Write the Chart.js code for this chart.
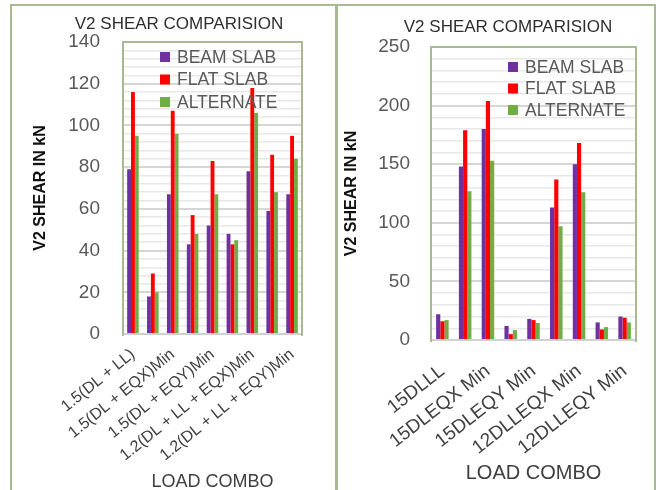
<!DOCTYPE html>
<html>
<head>
<meta charset="utf-8">
<script src="https://cdn.jsdelivr.net/npm/chart.js@4.4.1/dist/chart.umd.min.js"></script>
<style>
    html, body {
        margin: 0;
        padding: 0;
        background: #ffffff;
        overflow: hidden;
    }
    #page {
        position: relative;
        width: 665px;
        height: 490px;
        overflow: hidden;
    }
    #frame {
        position: absolute;
        left: 10px;
        top: 4px;
        width: 646px;
        height: 500px;
        border: 2px solid #a9b993;
        box-sizing: border-box;
    }
    #divider {
        position: absolute;
        left: 335px;
        top: 4px;
        width: 3px;
        height: 500px;
        background: #a9b993;
    }
    canvas {
        position: absolute;
    }
    #leftChart {
        left: 12px;
        top: 6px;
    }
    #rightChart {
        left: 338px;
        top: 6px;
    }
</style>
</head>
<body>
<div id="page">
    <div id="frame"></div>
    <div id="divider"></div>
    <canvas id="leftChart" width="322" height="490"></canvas>
    <canvas id="rightChart" width="316" height="490"></canvas>
</div>

<script>
// Series shared by both charts
var seriesNames = ['BEAM SLAB', 'FLAT SLAB', 'ALTERNATE'];
var seriesColors = ['#7030a0', '#ff0000', '#70ad47'];

// Left chart (factored combos)
var leftCombos = ['1.5(DL + LL)', '1.5(DL + EQX)Max', '1.5(DL + EQX)Min', '1.5(DL + EQY)Max', '1.5(DL + EQY)Min',
    '1.2(DL + LL + EQX)Max', '1.2(DL + LL + EQX)Min', '1.2(DL + LL + EQY)Max', '1.2(DL + LL + EQY)Min'];
var leftBeamSlab = [79, 18, 67, 43, 52, 48, 78, 59, 67];
var leftFlatSlab = [116, 29, 107, 57, 83, 43, 118, 86, 95];
var leftAlternate = [95, 20, 96, 48, 67, 45, 106, 68, 84];
var leftYTicks = [0, 20, 40, 60, 80, 100, 120, 140];

// Right chart (combo names without brackets)
var rightCombos = ['15DLLL', '15DLEQX Max', '15DLEQX Min', '15DLEQY Max', '15DLEQY Min',
    '12DLLEQX Max', '12DLLEQX Min', '12DLLEQY Max', '12DLLEQY Min'];
var rightBeamSlab = [22, 148, 180, 12, 18, 113, 150, 15, 20];
var rightFlatSlab = [16, 179, 204, 5, 17, 137, 168, 9, 19];
var rightAlternate = [17, 127, 153, 8.5, 14.5, 97, 126, 11, 15];
var rightYTicks = [0, 50, 100, 150, 200, 250];

var titleText = 'V2 SHEAR COMPARISION';
var yTitleText = 'V2 SHEAR IN kN';
var xTitleText = 'LOAD COMBO';

var fontFamily = "'Liberation Sans', Arial, sans-serif";
var frameColor = '#a9b993';

// plot frame, chart title and the legend sitting inside the plot area
var panelDecor = {
    id: 'panelDecor',
    beforeDatasetsDraw: function (chart, args, opts) {
        var a = chart.chartArea;
        var ctx = chart.ctx;
        ctx.save();
        ctx.strokeStyle = frameColor;
        ctx.lineWidth = 2;
        ctx.beginPath();
        ctx.moveTo(a.left, a.bottom + 2);
        ctx.lineTo(a.left, a.top);
        ctx.lineTo(a.right, a.top);
        ctx.lineTo(a.right, a.bottom + 2);
        ctx.stroke();
        ctx.restore();
    },
    afterDraw: function (chart, args, opts) {
        var ctx = chart.ctx;
        ctx.save();
        // title
        ctx.fillStyle = '#2e2e2e';
        ctx.font = opts.titleSize + 'px ' + fontFamily;
        ctx.textAlign = 'center';
        ctx.textBaseline = 'middle';
        ctx.fillText(titleText, opts.titleX, opts.titleY);

        // legend
        ctx.font = opts.legendSize + 'px ' + fontFamily;
        ctx.textAlign = 'left';
        chart.data.datasets.forEach(function (ds, i) {
            var y = opts.legendY + i * opts.legendGap;
            ctx.fillStyle = ds.backgroundColor;
            ctx.fillRect(opts.legendX, y - 5, 10, 10);
            ctx.fillStyle = '#595959';
            ctx.fillText(ds.label, opts.legendX + 17, y + 1);
        });
        ctx.restore();
    }
};

function makeChart(canvasId, combos, beam, flat, alt, yTicks, minorStep, look) {
    var ctx = document.getElementById(canvasId).getContext('2d');
    var values = [beam, flat, alt];
    var datasets = [];
    for (var i = 0; i < seriesNames.length; i++) {
        datasets.push({
            label: seriesNames[i],
            data: values[i],
            backgroundColor: seriesColors[i],
            borderWidth: 0,
            categoryPercentage: look.catPct,
            barPercentage: 1.0
        });
    }

    return new Chart(ctx, {
        type: 'bar',
        data: {
            labels: combos,
            datasets: datasets
        },
        options: {
            responsive: false,
            animation: false,
            layout: {
                padding: look.padding
            },
            plugins: {
                legend: { display: false },
                tooltip: { enabled: false },
                panelDecor: look.decor
            },
            scales: {
                x: {
                    grid: { display: false },
                    border: { color: '#d0d0d0', width: 2 },
                    ticks: {
                        autoSkip: false,
                        minRotation: look.rotation,
                        maxRotation: look.rotation,
                        padding: look.xTickPad,
                        color: '#404040',
                        font: { family: fontFamily, size: look.xTickSize },
                        // only every other combo is named on the axis
                        callback: function (value, index) {
                            return index % 2 === 0 ? this.getLabelForValue(value) : '';
                        }
                    },
                    title: {
                        display: true,
                        text: xTitleText,
                        color: '#404040',
                        padding: { top: 0, bottom: 0 },
                        font: { family: fontFamily, size: look.xTitleSize, lineHeight: 1 }
                    },
                    afterFit: function (scale) {
                        scale.height = look.xAxisHeight;
                    }
                },
                y: {
                    min: 0,
                    max: yTicks[yTicks.length - 1],
                    border: { display: false },
                    grid: {
                        drawTicks: false,
                        color: function (c) {
                            return yTicks.indexOf(c.tick.value) >= 0 ? '#d6d6d6' : '#e8e8e8';
                        },
                        lineWidth: function (c) {
                            return yTicks.indexOf(c.tick.value) >= 0 ? 2 : 1.5;
                        }
                    },
                    ticks: {
                        stepSize: minorStep,
                        autoSkip: false,
                        padding: look.yTickPad,
                        color: '#595959',
                        font: { family: fontFamily, size: 19 },
                        callback: function (value) {
                            return yTicks.indexOf(value) >= 0 ? value : '';
                        }
                    },
                    title: {
                        display: true,
                        text: yTitleText,
                        color: '#111111',
                        padding: { top: 1, bottom: 0 },
                        font: { family: fontFamily, size: 16, weight: 'bold', lineHeight: 1 }
                    },
                    afterFit: function (scale) {
                        scale.width = look.yAxisWidth;
                    }
                }
            }
        },
        plugins: [panelDecor]
    });
}

document.addEventListener('DOMContentLoaded', function () {
    makeChart('leftChart', leftCombos, leftBeamSlab, leftFlatSlab, leftAlternate, leftYTicks, 4, {
        catPct: 0.58,
        padding: { left: 20, right: 32, top: 36, bottom: 5 },
        yAxisWidth: 91,
        xAxisHeight: 157,
        yTickPad: 23,
        xTickPad: 3,
        xTickSize: 16,
        xTitleSize: 18,
        rotation: 39,
        decor: { titleX: 167, titleY: 18, titleSize: 17, legendX: 148, legendY: 51, legendGap: 22.5, legendSize: 17.5 }
    });
    makeChart('rightChart', rightCombos, rightBeamSlab, rightFlatSlab, rightAlternate, rightYTicks, 10, {
        catPct: 0.55,
        padding: { left: 5, right: 18, top: 41, bottom: 13 },
        yAxisWidth: 88,
        xAxisHeight: 143,
        yTickPad: 21,
        xTickPad: 12,
        xTickSize: 19,
        xTitleSize: 20,
        rotation: 38,
        decor: { titleX: 170, titleY: 21, titleSize: 17, legendX: 170, legendY: 61, legendGap: 21.5, legendSize: 17.5 }
    });
});
</script>
</body>
</html>
